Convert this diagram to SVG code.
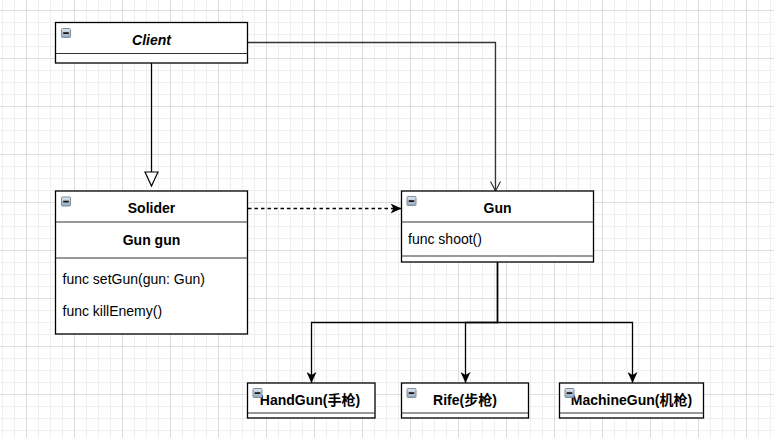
<svg xmlns="http://www.w3.org/2000/svg" xmlns:xlink="http://www.w3.org/1999/xlink" width="774" height="438" viewBox="0 0 774 438">
  <style>
    .box { fill: #ffffff; stroke: #000000; stroke-width: 1.3; }
    .div { stroke: #333333; stroke-width: 1.2; fill: none; }
    .t { font-family: "Liberation Sans", Arial, "Noto Sans CJK SC", sans-serif; font-size: 14px; fill: #000000; }
    .b { font-weight: bold; }
    .c { text-anchor: middle; }
    .edge { fill: none; stroke: #000000; stroke-width: 1.3; }
    .grey { stroke: #333333; }
    .dash { stroke-dasharray: 3.5 3; }
  </style>
  <defs>
    <pattern id="grid" patternUnits="userSpaceOnUse" x="26" y="10" width="48" height="48">
      <path d="M12.5,0 V48 M24.5,0 V48 M36.5,0 V48 M0,12.5 H48 M0,24.5 H48 M0,36.5 H48" stroke="#efefef" stroke-width="1" fill="none"/>
      <path d="M0.5,0 V48 M0,0.5 H48" stroke="#dddddd" stroke-width="1" fill="none"/>
    </pattern>
    <linearGradient id="ig" x1="0" y1="0" x2="0" y2="1">
      <stop offset="0" stop-color="#dfe7ef"/>
      <stop offset="1" stop-color="#93a7bb"/>
    </linearGradient>
    <g id="icon">
      <rect x="0.5" y="0.5" width="9" height="9" rx="1" fill="url(#ig)" stroke="#7d8fa3" stroke-width="1"/>
      <rect x="2.2" y="4.2" width="5.6" height="1.8" fill="#1a1a1a"/>
    </g>
    <marker id="classic" markerUnits="userSpaceOnUse" viewBox="0 0 12 10" refX="11" refY="5" markerWidth="12" markerHeight="10" orient="auto">
      <path d="M0,0 L11,5 L0,10 L3,5 Z" fill="#000000"/>
    </marker>
    <marker id="open" markerUnits="userSpaceOnUse" viewBox="0 0 12 12" refX="10.5" refY="6" markerWidth="12" markerHeight="12" orient="auto">
      <path d="M1,1 L10.5,6 L1,11" fill="none" stroke="#333333" stroke-width="1.2"/>
    </marker>
    <marker id="inherit" markerUnits="userSpaceOnUse" viewBox="0 0 16 15" refX="15" refY="7.5" markerWidth="16" markerHeight="15" orient="auto">
      <path d="M1,1 L15,7.5 L1,14 Z" fill="#ffffff" stroke="#000000" stroke-width="1.2"/>
    </marker>
  </defs>

  <rect x="0" y="0" width="774" height="438" fill="#ffffff"/>
  <rect x="0" y="0" width="774" height="438" fill="url(#grid)"/>

  <g id="connectors">
    <path id="e-client-solider" class="edge" d="M151.5,63 V186" marker-end="url(#inherit)"/>
    <path id="e-client-gun" class="edge grey" d="M247.5,42.5 H495.5 V191" marker-end="url(#open)"/>
    <path id="e-solider-gun" class="edge dash" d="M248,208.5 H401.5" marker-end="url(#classic)"/>
    <path id="e-gun-handgun" class="edge" d="M497.5,262 V322.5 H311.5 V383" marker-end="url(#classic)"/>
    <path id="e-gun-rife" class="edge" d="M497.5,262 V322.5 H465.5 V383" marker-end="url(#classic)"/>
    <path id="e-gun-machinegun" class="edge" d="M497.5,262 V322.5 H632.5 V383" marker-end="url(#classic)"/>
  </g>

  <g id="client">
    <rect class="box" x="55.5" y="22.5" width="192" height="40.5"/>
    <line class="div" x1="55.5" y1="53.5" x2="247.5" y2="53.5"/>
    <text class="t b c" x="151.5" y="44.5" font-style="italic">Client</text>
    <use xlink:href="#icon" x="61" y="28"/>
  </g>

  <g id="solider">
    <rect class="box" x="55.5" y="191" width="192" height="143"/>
    <line class="div" x1="55.5" y1="222" x2="247.5" y2="222"/>
    <line class="div" x1="55.5" y1="258" x2="247.5" y2="258"/>
    <text class="t b c" x="151.5" y="212.5">Solider</text>
    <text class="t b c" x="151.5" y="244.5">Gun gun</text>
    <text class="t" x="62.5" y="284">func setGun(gun: Gun)</text>
    <text class="t" x="62.5" y="315.5">func killEnemy()</text>
    <use xlink:href="#icon" x="61" y="196.5"/>
  </g>

  <g id="gun">
    <rect class="box" x="401.5" y="191" width="192" height="71"/>
    <line class="div" x1="401.5" y1="222" x2="593.5" y2="222"/>
    <line class="div" x1="401.5" y1="256" x2="593.5" y2="256"/>
    <text class="t b c" x="497.5" y="212.5">Gun</text>
    <text class="t" x="408" y="244">func shoot()</text>
    <use xlink:href="#icon" x="406.5" y="196"/>
  </g>

  <g id="handgun">
    <rect class="box" x="247.5" y="383" width="127.5" height="35"/>
    <line class="div" x1="247.5" y1="413" x2="375" y2="413"/>
    <text class="t b c" x="310" y="404.5">HandGun(手枪)</text>
    <use xlink:href="#icon" x="252.5" y="388"/>
  </g>

  <g id="rife">
    <rect class="box" x="401.5" y="383" width="127" height="35"/>
    <line class="div" x1="401.5" y1="413" x2="528.5" y2="413"/>
    <text class="t b c" x="465" y="404.5">Rife(步枪)</text>
    <use xlink:href="#icon" x="406.5" y="388"/>
  </g>

  <g id="machinegun">
    <rect class="box" x="559.5" y="383" width="144" height="35"/>
    <line class="div" x1="559.5" y1="413" x2="703.5" y2="413"/>
    <text class="t b c" x="631.5" y="404.5">MachineGun(机枪)</text>
    <use xlink:href="#icon" x="564.5" y="388"/>
  </g>
</svg>
